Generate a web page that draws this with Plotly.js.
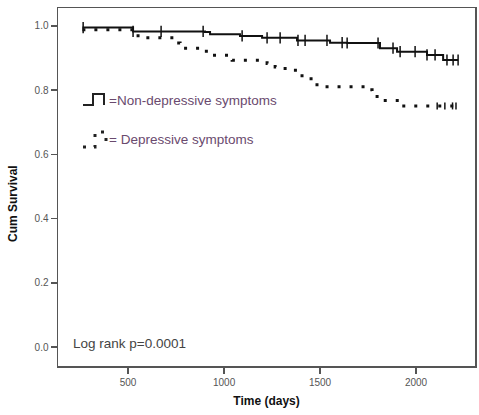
<!DOCTYPE html>
<html>
<head>
<meta charset="utf-8">
<script src="https://cdn.plot.ly/plotly-3.0.1.min.js"></script>
<style>html,body{margin:0;padding:0;background:#fff;}#chart{width:479px;height:415px;}</style>
</head>
<body>
<div id="chart"></div>
<script>
// Non-depressive symptoms (solid step curve)
const ndTime = [262, 526, 901, 927, 1083, 1198, 1380, 1552, 1641, 1812, 1901, 2057, 2141, 2219];
const ndSurv = [0.995, 0.983, 0.981, 0.974, 0.969, 0.963, 0.955, 0.948, 0.947, 0.931, 0.920, 0.910, 0.894, 0.894];
const ndCensor = [266, 526, 672, 891, 1094, 1224, 1292, 1385, 1422, 1536, 1615, 1641, 1802, 1880, 1917, 1995, 2057, 2099, 2161, 2193, 2219];

// Depressive symptoms (dotted step curve)
const dTime = [262, 552, 745, 771, 891, 927, 1042, 1224, 1266, 1318, 1406, 1484, 1734, 1771, 1812, 1917, 2208];
const dSurv = [0.988, 0.963, 0.947, 0.931, 0.921, 0.909, 0.893, 0.883, 0.872, 0.862, 0.836, 0.811, 0.801, 0.780, 0.768, 0.751, 0.751];
const dCensor = [2110, 2150, 2190, 2208];

const xTicks = [500, 1000, 1500, 2000];
const yTicks = [0.0, 0.2, 0.4, 0.6, 0.8, 1.0];

const legendLabels = ["=Non-depressive symptoms", "= Depressive symptoms"];
const noteText = "Log rank p=0.0001";

function stepAt(times, surv, t) {
  let s = surv[0];
  for (let i = 0; i < times.length; i++) { if (times[i] <= t) s = surv[i]; }
  return s;
}

const traces = [
  {x: ndTime, y: ndSurv, type: 'scatter', mode: 'lines', line: {shape: 'hv', color: '#111', width: 2}, name: 'Non-depressive symptoms', hoverinfo: 'skip'},
  {x: ndCensor, y: ndCensor.map(t => stepAt(ndTime, ndSurv, t)), type: 'scatter', mode: 'markers',
   marker: {symbol: 'line-ns-open', size: 8, color: '#111', line: {color: '#111', width: 1.5}}, name: 'censored', hoverinfo: 'skip'},
  {x: dTime, y: dSurv, type: 'scatter', mode: 'lines', line: {shape: 'hv', color: '#111', width: 3, dash: '3px,9px'}, name: 'Depressive symptoms', hoverinfo: 'skip'},
  {x: dCensor, y: dCensor.map(t => stepAt(dTime, dSurv, t)), type: 'scatter', mode: 'markers',
   marker: {symbol: 'line-ns-open', size: 5, color: '#111', line: {color: '#111', width: 1.5}}, name: 'censored dep', hoverinfo: 'skip'}
];

// pixel helpers for legend glyphs (paper coords)
const L = 58, R = 475, T = 8, B = 366;
const px = v => (v - L) / (R - L);
const py = v => (B - v) / (B - T);

const layout = {
  width: 479, height: 415,
  margin: {l: 58, r: 4, t: 8, b: 49},
  paper_bgcolor: '#fff', plot_bgcolor: '#fff',
  showlegend: false,
  font: {family: 'Liberation Sans, Arial, sans-serif', color: '#555'},
  xaxis: {
    range: [135, 2307], tickvals: xTicks, ticktext: xTicks.map(String),
    ticks: 'outside', ticklen: 6, tickwidth: 1.5, tickcolor: '#555',
    showline: true, linecolor: '#555', linewidth: 1.5, mirror: true,
    showgrid: false, zeroline: false,
    tickfont: {size: 10, color: '#555'},
    title: {text: 'Time (days)', font: {size: 12, color: '#111', family: 'Liberation Sans, Arial, sans-serif', weight: 'bold'}, standoff: 10}
  },
  yaxis: {
    range: [-0.059, 1.056], tickvals: yTicks, ticktext: yTicks.map(v => v.toFixed(1)),
    ticks: 'outside', ticklen: 6, tickwidth: 1.5, tickcolor: '#555',
    showline: true, linecolor: '#555', linewidth: 1.5, mirror: true,
    showgrid: false, zeroline: false,
    tickfont: {size: 10, color: '#555'},
    title: {text: ''}
  },
  annotations: [
    {text: '<b>Cum Survival</b>', xref: 'paper', yref: 'paper', x: px(13), y: py(204), xanchor: 'center', yanchor: 'middle',
     textangle: -90, showarrow: false, font: {size: 12, color: '#111'}},
    {text: legendLabels[0], xref: 'paper', yref: 'paper', x: px(107), y: py(101), xanchor: 'left', yanchor: 'middle',
     showarrow: false, font: {size: 13.5, color: '#6a4a6e'}},
    {text: legendLabels[1], xref: 'paper', yref: 'paper', x: px(107), y: py(139), xanchor: 'left', yanchor: 'middle',
     showarrow: false, font: {size: 13.5, color: '#6a4a6e'}},
    {text: noteText, xref: 'paper', yref: 'paper', x: px(71), y: py(343), xanchor: 'left', yanchor: 'middle',
     showarrow: false, font: {size: 13.5, color: '#444'}}
  ],
  shapes: [
    {type: 'path', xref: 'paper', yref: 'paper',
     path: `M${px(83)},${py(105)} L${px(93)},${py(105)} L${px(93)},${py(94)} L${px(104)},${py(94)} L${px(104)},${py(105)}`,
     line: {color: '#222', width: 2}},
    {type: 'path', xref: 'paper', yref: 'paper',
     path: `M${px(83)},${py(147)} L${px(95)},${py(147)} L${px(95)},${py(132)} L${px(106)},${py(132)} L${px(106)},${py(144)}`,
     line: {color: '#222', width: 3, dash: '3px,8px'}}
  ]
};

Plotly.newPlot('chart', traces, layout, {displayModeBar: false, staticPlot: true});
</script>
</body>
</html>
